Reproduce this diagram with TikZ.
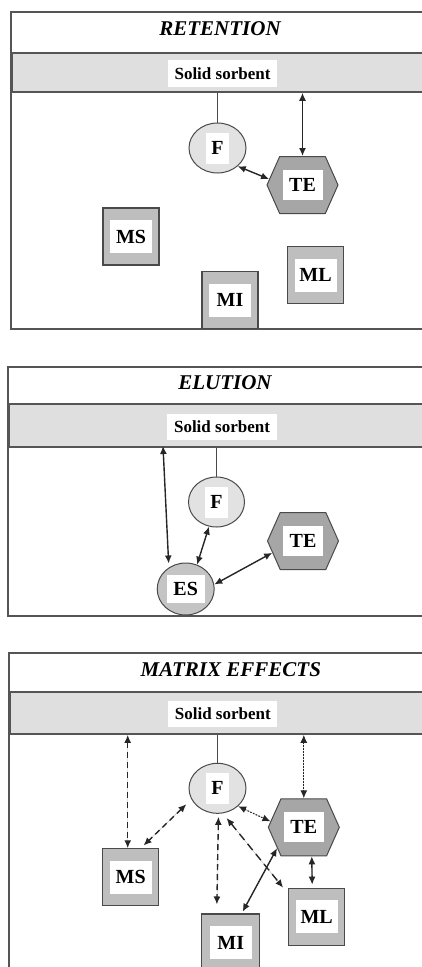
\documentclass[tikz,border=0pt]{standalone}
\usepackage{fontspec}
\setmainfont{Liberation Serif}
\usetikzlibrary{shapes.geometric,shapes.symbols,arrows.meta}
\definecolor{framec}{HTML}{555555}
\definecolor{edgec}{HTML}{4A4A4A}
\definecolor{bandc}{HTML}{DFDFDF}
\definecolor{fcol}{HTML}{E2E2E2}
\definecolor{tecol}{HTML}{A6A6A6}
\definecolor{sqcol}{HTML}{BEBEBE}
\definecolor{escol}{HTML}{C4C4C4}
\tikzset{
 frm/.style={draw=framec, line width=1.8pt},
 bandbox/.style={draw=framec, line width=1.8pt, fill=bandc, inner sep=0pt, anchor=north west, minimum width=440pt},
 ttl/.style={font=\bfseries\itshape\fontsize{21}{24}\selectfont, inner sep=0pt},
 sorb/.style={fill=white, inner sep=0pt, minimum width=109pt, minimum height=27pt, font=\bfseries\fontsize{17}{20}\selectfont},
 lab/.style={fill=white, inner sep=0pt, font=\bfseries\fontsize{20}{24}\selectfont},
 fnode/.style={ellipse, draw=edgec, line width=1pt, fill=fcol, minimum width=57pt, minimum height=50pt, inner sep=0pt},
 esnode/.style={ellipse, draw=edgec, line width=1pt, fill=escol, minimum width=57pt, minimum height=52pt, inner sep=0pt},
 tenode/.style={signal, signal to=east and west, signal pointer angle=132, draw=edgec, line width=1pt, fill=tecol, minimum width=71pt, minimum height=57pt, inner sep=0pt},
 sqnode/.style={rectangle, draw=edgec, line width=1.1pt, fill=sqcol, minimum width=56pt, minimum height=57pt, inner sep=0pt},
 flab/.style={lab, minimum width=23pt, minimum height=31pt},
 telab/.style={lab, minimum width=40pt, minimum height=30pt},
 sqlab/.style={lab, minimum width=42pt, minimum height=33pt},
 eslab/.style={lab, minimum width=38pt, minimum height=28pt},
 plain/.style={draw=edgec, line width=0.9pt},
 arr/.style={{Latex[length=8pt,width=7pt]}-{Latex[length=8pt,width=7pt]}, line width=1.4pt, draw=black!85, fill=black!85},
 dsh/.style={arr, dash pattern=on 6pt off 4pt},
 ldsh/.style={arr, dash pattern=on 8pt off 5pt},
 dot/.style={arr, line width=1.1pt, dash pattern=on 1.5pt off 1.5pt},
}
\begin{document}
\begin{tikzpicture}[x=1pt,y=-1pt]
\useasboundingbox (0,0) rectangle (422,967);
\clip (0,0) rectangle (422,967);

% ---------- Panel 1: RETENTION ----------
\draw[frm] (11,12) rectangle (460,329);
\node[bandbox, minimum height=39pt] (band1) at (11,52) {};
\node[ttl] (title1) at (220,29) {RETENTION};
\node[sorb] (sorb1) at (222.5,73.5) {Solid sorbent};
\node[fnode] (F1) at (217.5,148) {};
\node[flab] (F1l) at (F1) {F};
\node[tenode] (TE1) at (302.5,185) {};
\node[telab] (TE1l) at (TE1) {TE};
\node[sqnode] (MS1) at (131,236.5) {};
\node[sqlab] (MS1l) at (MS1) {MS};
\node[sqnode] (MI1) at (230,300) {};
\node[sqlab] (MI1l) at (MI1) {MI};
\node[sqnode] (ML1) at (315.5,275) {};
\node[sqlab] (ML1l) at (ML1) {ML};
\draw[plain] (band1.south -| F1.north) -- (F1.north);
\draw[arr] (band1.south -| TE1.north) -- (TE1.north);
\draw[arr] (F1.-42) -- (TE1.170);

% ---------- Panel 2: ELUTION ----------
\draw[frm] (8,367) rectangle (460,616);
\node[bandbox, minimum height=43pt] (band2) at (8,403) {};
\node[ttl] (title2) at (225,382.5) {ELUTION};
\node[sorb, minimum width=110pt, minimum height=26pt] (sorb2) at (222,426.7) {Solid sorbent};
\node[fnode, minimum width=56pt] (F2) at (216.5,502) {};
\node[flab] (F2l) at (F2) {F};
\node[tenode] (TE2) at (303,541) {};
\node[telab] (TE2l) at (TE2) {TE};
\node[esnode] (ES2) at (185.7,589) {};
\node[eslab] (ES2l) at (ES2) {ES};
\coordinate (b2l) at (163,446);
\draw[plain] (band2.south -| F2.north) -- (F2.north);
\draw[arr, shorten >=4pt] (b2l) -- (ES2.128);
\draw[arr] (F2.253) -- (ES2.65);
\draw[arr] (ES2.9) -- (TE2.201);

% ---------- Panel 3: MATRIX EFFECTS ----------
\draw[frm] (9,653) rectangle (460,1000);
\node[bandbox, minimum height=42pt] (band3) at (9,691) {};
\node[ttl] (title3) at (230.8,669.5) {MATRIX EFFECTS};
\node[sorb, minimum height=26pt] (sorb3) at (222.8,713.8) {Solid sorbent};
\node[fnode] (F3) at (217.5,788.3) {};
\node[flab] (F3l) at (F3) {F};
\node[tenode] (TE3) at (303.8,827.3) {};
\node[telab] (TE3l) at (TE3) {TE};
\node[sqnode] (MS3) at (130.7,877.3) {};
\node[sqlab] (MS3l) at (MS3) {MS};
\node[sqnode, minimum width=58pt] (MI3) at (230.7,942.5) {};
\node[sqlab] (MI3l) at (MI3) {MI};
\node[sqnode] (ML3) at (316.7,916.7) {};
\node[sqlab] (ML3l) at (ML3) {ML};
\coordinate (m3) at ([xshift=-3pt]MS3.north);
\draw[plain] (band3.south -| F3.north) -- (F3.north);
\draw[dsh] (band3.south -| m3) -- (m3);
\draw[dsh, shorten <=7pt, shorten >=4pt] (F3.203) -- ([xshift=10pt]MS3.north);
\draw[dot] (F3.-41) -- (TE3.170);
\draw[dot] (band3.south -| TE3.north) -- (TE3.north);
\draw[dsh, shorten <=3pt, shorten >=9pt] ([xshift=1pt]F3.south) -- ([xshift=-14pt]MI3.north);
\draw[ldsh, shorten <=6pt] (F3.-78) -- ([xshift=-5pt]ML3.north west);
\draw[arr, shorten >=2pt] (TE3.218) -- ([xshift=11pt]MI3.north);
\draw[arr, shorten >=3pt] ([xshift=8pt]TE3.south) -- ([xshift=-4.5pt]ML3.north);
\end{tikzpicture}
\end{document}
